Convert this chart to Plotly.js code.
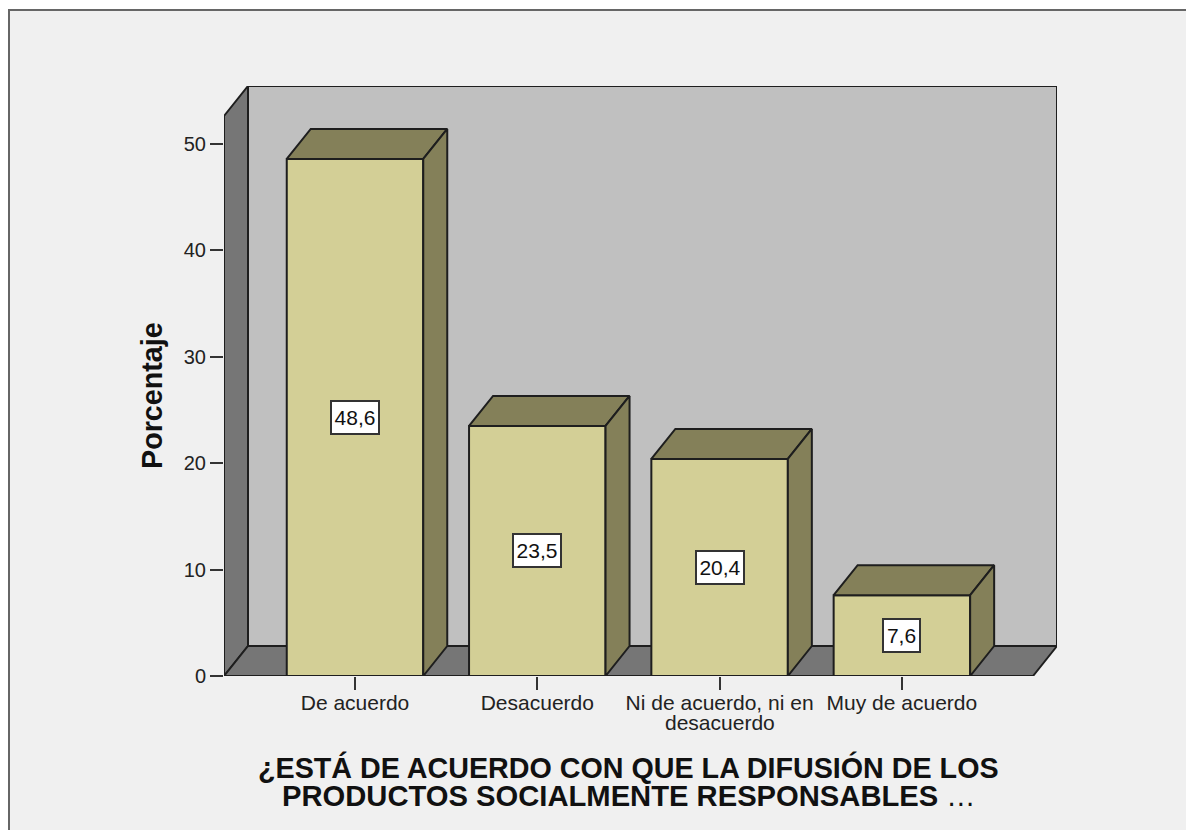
<!DOCTYPE html>
<html>
<head>
<meta charset="utf-8">
<script src="https://cdn.plot.ly/plotly-3.0.1.min.js"></script>
<style>html,body{margin:0;padding:0;background:#fff}#c{width:1186px;height:830px}</style>
</head>
<body>
<div id="c"></div>
<script>
const categories = ["De acuerdo", "Desacuerdo", "Ni de acuerdo, ni en desacuerdo", "Muy de acuerdo"];
const tickLabels = ["De acuerdo", "Desacuerdo", "Ni de acuerdo, ni en", "Muy de acuerdo"];
const wrappedTickLine = "desacuerdo";
const percentages = [48.6, 23.5, 20.4, 7.6];
const valueLabels = ["48,6", "23,5", "20,4", "7,6"];
const titleLines = ["¿ESTÁ DE ACUERDO CON QUE LA DIFUSIÓN DE LOS", "PRODUCTOS SOCIALMENTE RESPONSABLES"];
const titleEllipsis = "…";
const yTitle = "Porcentaje";

const W = 1186, H = 830;
const plot = {l: 224, r: 1057, t: 86, b: 676};
const pxPerCat = 182.3, pxPerUnit = 10.64;
const cat0Px = 355;
const barW = 136.5 / pxPerCat;
const dx = 24 / pxPerCat, dy = 30 / pxPerUnit;
const xMin = (plot.l - cat0Px) / pxPerCat;
const xMax = (plot.r - cat0Px) / pxPerCat;
const yMax = (plot.b - plot.t) / pxPerUnit;
const xs = categories.map((_, i) => i);

const FRONT = "#d3cf96", SHADE = "#848059", WALL = "#c0c0c0", FLOOR = "#767676", BG = "#f0f0f0", INK = "#1e1e1e";
const FONT = '"Liberation Sans", Arial, sans-serif';
const LW = 2;
const px = v => (v - plot.l) / (plot.r - plot.l);
const py = v => (plot.b - v) / (plot.b - plot.t);

const traces = [{
  type: "bar", x: xs, y: percentages, width: barW,
  marker: {color: FRONT, line: {color: INK, width: LW}},
  hoverinfo: "skip", showlegend: false
}];
xs.forEach((x, i) => {
  const a = x - barW / 2, b = x + barW / 2, v = percentages[i];
  traces.push({
    type: "scatter", mode: "lines", fill: "toself", fillcolor: SHADE,
    x: [a, a + dx, b + dx, b, a], y: [v, v + dy, v + dy, v, v],
    line: {color: INK, width: LW}, hoverinfo: "skip", showlegend: false
  });
  traces.push({
    type: "scatter", mode: "lines", fill: "toself", fillcolor: SHADE,
    x: [b, b + dx, b + dx, b, b], y: [0, dy, v + dy, v, 0],
    line: {color: INK, width: LW}, hoverinfo: "skip", showlegend: false
  });
});

const poly = pts => "M" + pts.map(p => p.join(",")).join("L") + "Z";
const shapes = [
  {type: "rect", xref: "paper", yref: "paper", x0: px(9), x1: px(1300), y0: py(10), y1: py(900),
   fillcolor: BG, line: {color: "#666", width: 2}, layer: "below"},
  {type: "rect", xref: "x", yref: "y", x0: xMin + dx, x1: xMax, y0: dy, y1: yMax,
   fillcolor: WALL, line: {color: INK, width: LW}, layer: "below"},
  {type: "path", xref: "x", yref: "y", path: poly([[xMin, 0], [xMin + dx, dy], [xMin + dx, yMax], [xMin, yMax - dy]]),
   fillcolor: FLOOR, line: {color: INK, width: LW}, layer: "below"},
  {type: "path", xref: "x", yref: "y", path: poly([[xMin, 0], [xMax - dx, 0], [xMax, dy], [xMin + dx, dy]]),
   fillcolor: FLOOR, line: {color: INK, width: LW}, layer: "below"}
];

const annotations = valueLabels.map((t, i) => ({
  x: xs[i], y: percentages[i] / 2, xref: "x", yref: "y", text: t, showarrow: false,
  font: {family: FONT, size: 21, color: "#111"}, bgcolor: "#fff",
  bordercolor: "#333", borderwidth: 2, borderpad: 1, height: 29,
  width: t.length > 3 ? 44 : 33, align: "center", valign: "middle"
}));
annotations.push({
  x: xs[2], xref: "x", y: py(722.5), yref: "paper", yanchor: "middle", xanchor: "center", text: wrappedTickLine, showarrow: false,
  font: {family: FONT, size: 21, color: "#222"}
});
annotations.push({
  x: px(628), xref: "paper", y: py(767), yref: "paper", yanchor: "middle", xanchor: "center", text: "<b>" + titleLines[0] + "</b>", showarrow: false,
  font: {family: FONT, size: 28.7, color: "#111"}
});
annotations.push({
  x: px(629), xref: "paper", y: py(796), yref: "paper", yanchor: "middle", xanchor: "center", text: "<b>" + titleLines[1] + " </b>" + titleEllipsis, showarrow: false,
  font: {family: FONT, size: 29.2, color: "#111"}
});
annotations.push({
  x: px(152), xref: "paper", y: py(396), yref: "paper", yanchor: "middle", xanchor: "center", text: "<b>" + yTitle + "</b>", showarrow: false,
  textangle: -90, font: {family: FONT, size: 28.7, color: "#111"}
});

Plotly.newPlot("c", traces, {
  width: W, height: H,
  margin: {l: plot.l, r: W - plot.r, t: plot.t, b: H - plot.b, pad: 0},
  paper_bgcolor: "#fff", plot_bgcolor: "rgba(0,0,0,0)",
  showlegend: false, barmode: "overlay",
  xaxis: {
    type: "linear", range: [xMin, xMax], tickmode: "array", tickvals: xs, ticktext: tickLabels,
    ticks: "outside", ticklen: 13, tickwidth: 2, tickcolor: "#333", showgrid: false, zeroline: false, showline: false,
    tickangle: 0, ticklabelstandoff: -5, tickfont: {family: FONT, size: 21, color: "#222"}
  },
  yaxis: {
    type: "linear", range: [0, yMax], tickmode: "array", tickvals: [0, 10, 20, 30, 40, 50],
    ticks: "outside", ticklen: 13, tickwidth: 2, tickcolor: "#333", showgrid: false, zeroline: false, showline: false,
    tickfont: {family: FONT, size: 20, color: "#222"}
  },
  shapes, annotations
}, {displayModeBar: false, staticPlot: true});
</script>
</body>
</html>
